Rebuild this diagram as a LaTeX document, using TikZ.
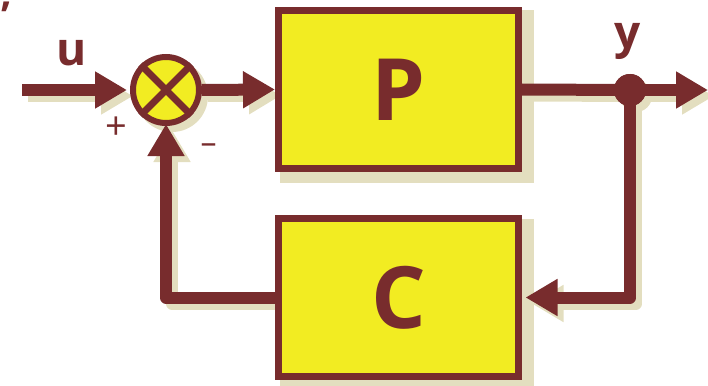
\documentclass[tikz,border=0pt]{standalone}
\usepackage{fontspec}
\setmainfont{Open Sans}
\usetikzlibrary{arrows.meta,backgrounds}
\definecolor{wine}{HTML}{782C2D}
\definecolor{lemon}{HTML}{F2EC22}
\definecolor{sand}{HTML}{E3DEBF}
\begin{document}
\begin{tikzpicture}[x=1pt,y=-1pt,
  blockbox/.style={draw=wine,fill=lemon,line width=7pt,minimum width=240pt,
    minimum height=158pt,inner sep=0pt,text=wine,
    font=\fontsize{86}{86}\selectfont\bfseries},
  sumnode/.style={circle,draw=wine,fill=lemon,line width=6pt,minimum size=66pt,inner sep=0pt},
  dotnode/.style={circle,fill=wine,minimum size=32pt,inner sep=0pt},
  link/.style={draw=wine,line width=12pt,line join=round},
  tip/.style={-{Triangle[length=32pt,width=35pt]}},
  lbl/.style={text=wine,inner sep=0pt,font=\fontsize{46}{46}\selectfont\bfseries},
  sgn/.style={text=wine,inner sep=0pt,font=\fontsize{38}{38}\selectfont}]
\useasboundingbox (0,0) rectangle (708,385);

% blocks, summing junction and branch point
\node[blockbox] (P) at (398.5,89.5) {P};
\node[blockbox] (C) at (398.5,297.5) {C};
\node[sumnode] (S) at (166,90) {};
\node[dotnode] (J) at (630,90) {};
\coordinate (in) at (22,90);
\coordinate (out) at (708,90);

% labels
\node[lbl] (u) at (72,53) {u};
\node[lbl] (y) at (628,41) {y};
\node[sgn] (plus) at (116,128) {+};
\node[sgn,font=\fontsize{32}{32}\selectfont,anchor=base] (minus) at (208.5,153) {–};
\node[text=wine,inner sep=0pt,font=\fontsize{40}{40}\selectfont\bfseries] (tick) at (6,16) {’};

% cross inside the summing junction
\draw[wine,line width=7pt] (S.45) -- (S.225);
\draw[wine,line width=7pt] (S.135) -- (S.315);

% signal flow
\draw[link,tip,shorten >=3pt] (in) -- (S.west);
\draw[link,tip] (S.east) -- (P.west);
\draw[link] (P.east) -- (J.center);
\draw[link,tip] (J.center) -- (out);
\draw[link,tip] (J.center) |- ([xshift=3.5pt]C.east);
\draw[link,tip,shorten >=-2pt] (C.west) -| (S.south);
\node[dotnode] at (J.center) {};

% drop shadows
\begin{scope}[on background layer]
  \begin{scope}[transform canvas={xshift=8pt,yshift=-7pt}]
    \path[fill=sand,draw=sand,line width=7pt] (P.north west) rectangle (P.south east);
    \path[fill=sand,draw=sand,line width=7pt] (C.north west) rectangle (C.south east);
  \end{scope}
  \begin{scope}[transform canvas={xshift=6pt,yshift=-6pt},link/.append style={draw=sand}]
    \fill[sand] (S.center) circle (36pt);
    \fill[sand] (J.center) circle (16pt);
    \draw[link,tip,shorten >=3pt] (in) -- (S.west);
    \draw[link,tip] (S.east) -- (P.west);
    \draw[link] (P.east) -- (J.center);
    \draw[link,tip] (J.center) -- (out);
    \draw[link,tip] (J.center) |- ([xshift=3.5pt]C.east);
    \draw[link,tip,shorten >=-2pt] (C.west) -| (S.south);
  \end{scope}
\end{scope}
\end{tikzpicture}
\end{document}
